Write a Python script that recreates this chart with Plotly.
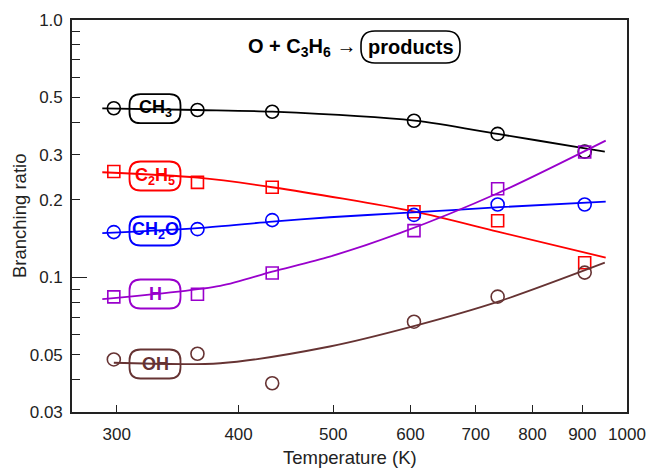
import math
import plotly.graph_objects as go

# ---------------- data ----------------
T_pts = [298, 363, 433, 605, 737, 905]
CH3 = [0.454, 0.447, 0.440, 0.406, 0.361, 0.308]
C2H5 = [0.258, 0.234, 0.224, 0.180, 0.166, 0.114]
CH2O = [0.150, 0.154, 0.167, 0.175, 0.192, 0.192]
H = [0.084, 0.086, 0.104, 0.152, 0.221, 0.307]
OH = [0.048, 0.0505, 0.0388, 0.0673, 0.0842, 0.1044]

# fitted curves
T_fit_CH3 = [290, 363, 433, 606, 737, 906, 949]
CH3_fit = [0.454, 0.447, 0.4405, 0.4064, 0.3608, 0.3172, 0.308]
T_fit_C2H5 = [290, 363, 433, 606, 737, 951]
C2H5_fit = [0.2562, 0.2441, 0.2240, 0.1801, 0.1506, 0.1194]
T_fit_CH2O = [290, 363, 433, 496, 585, 741, 951]
CH2O_fit = [0.1485, 0.1553, 0.1647, 0.1713, 0.1776, 0.1874, 0.1970]
T_fit_H = [290, 383, 433, 496, 585, 737, 951]
H_fit = [0.0823, 0.0927, 0.1053, 0.1204, 0.1485, 0.2123, 0.340]
T_fit_OH = [298, 383, 496, 606, 738, 949]
OH_fit = [0.0466, 0.0464, 0.0539, 0.0648, 0.0805, 0.1141]

x_tickvals = [300, 400, 500, 600, 700, 800, 900, 1000]
y_tickvals = [0.03, 0.05, 0.1, 0.2, 0.3, 0.5, 1.0]
y_ticktext = ["0.03", "0.05", "0.1", "0.2", "0.3", "0.5", "1.0"]
y_minor = [0.04, 0.06, 0.07, 0.08, 0.09, 0.4, 0.6, 0.7, 0.8, 0.9]

series = [
    ("CH<sub>3</sub>", CH3, CH3_fit, T_fit_CH3, "circle-open", "#000000"),
    ("C<sub>2</sub>H<sub>5</sub>", C2H5, C2H5_fit, T_fit_C2H5, "square-open", "#ff0000"),
    ("CH<sub>2</sub>O", CH2O, CH2O_fit, T_fit_CH2O, "circle-open", "#0000ff"),
    ("H", H, H_fit, T_fit_H, "square-open", "#9900cc"),
    ("OH", OH, OH_fit, T_fit_OH, "circle-open", "#663333"),
]
label_y_px = [108.7, 176, 231, 294, 364]

# ---------------- layout constants ----------------
W, Hh = 649, 472
ML, MR, MT, MB = 72, 22, 20, 60
PW = W - ML - MR
PH = Hh - MT - MB
FONT = "Liberation Sans, Arial, sans-serif"


def px2paper(px, py):
    return (px - ML) / PW, 1 - (py - MT) / PH


def rounded_path(w, h, r):
    a, b = w / 2, h / 2
    return (f"M {-a + r},{-b} L {a - r},{-b} Q {a},{-b} {a},{-b + r} "
            f"L {a},{b - r} Q {a},{b} {a - r},{b} L {-a + r},{b} "
            f"Q {-a},{b} {-a},{b - r} L {-a},{-b + r} Q {-a},{-b} {-a + r},{-b} Z")


fig = go.Figure()
shapes = []
annotations = []

for (name, pts, fit, tf, sym, col), lpy in zip(series, label_y_px):
    fig.add_trace(go.Scatter(x=tf, y=fit, mode="lines",
                             line=dict(color=col, width=1.8, shape="spline", smoothing=0.8),
                             showlegend=False, hoverinfo="skip"))
    fig.add_trace(go.Scatter(x=T_pts, y=pts, mode="markers",
                             marker=dict(symbol=sym, size=13 if "circle" in sym else 12,
                                         color=col, line=dict(width=1.6, color=col)),
                             showlegend=False))
    xp, yp = px2paper(155, lpy)
    shapes.append(dict(type="path", xref="paper", yref="paper", xsizemode="pixel",
                       ysizemode="pixel", xanchor=xp, yanchor=yp,
                       path=rounded_path(51, 29, 11), line=dict(color=col, width=1.8)))
    annotations.append(dict(xref="paper", yref="paper", x=xp, y=yp, text=f"<b>{name}</b>",
                            showarrow=False, xanchor="center", yanchor="middle",
                            font=dict(family=FONT, size=18, color=col)))

# title
xp, yp = px2paper(358, 48)
annotations.append(dict(xref="paper", yref="paper", x=xp, y=yp,
                        text="<b>O + C<sub>3</sub>H<sub>6</sub></b> →",
                        showarrow=False, xanchor="right", yanchor="middle",
                        font=dict(family=FONT, size=20, color="#000")))
xp, yp = px2paper(410.5, 47)
annotations.append(dict(xref="paper", yref="paper", x=xp, y=yp, text="<b>products</b>",
                        showarrow=False, xanchor="center", yanchor="middle",
                        font=dict(family=FONT, size=20, color="#000")))
shapes.append(dict(type="path", xref="paper", yref="paper", xsizemode="pixel",
                   ysizemode="pixel", xanchor=xp, yanchor=yp,
                   path=rounded_path(99, 32, 14), line=dict(color="#000", width=1.6)))

# axis titles
xp, yp = px2paper(349.5, 457)
annotations.append(dict(xref="paper", yref="paper", x=xp, y=yp, text="Temperature (K)",
                        showarrow=False, xanchor="center", yanchor="middle",
                        font=dict(family=FONT, size=18.5, color="#222")))
xp, yp = px2paper(19, 216)
annotations.append(dict(xref="paper", yref="paper", x=xp, y=yp, text="Branching ratio",
                        showarrow=False, xanchor="center", yanchor="middle", textangle=-90,
                        font=dict(family=FONT, size=18.5, color="#222")))

fig.update_layout(
    width=W, height=Hh,
    margin=dict(l=ML, r=MR, t=MT, b=MB, pad=0, autoexpand=False),
    paper_bgcolor="white", plot_bgcolor="white",
    font=dict(family=FONT, size=17, color="#222"),
    showlegend=False,
    shapes=shapes, annotations=annotations,
    xaxis=dict(type="log", range=[math.log10(270), 3], tickvals=x_tickvals,
               ticktext=[str(v) for v in x_tickvals], ticks="inside", ticklen=7,
               tickwidth=1.3, tickcolor="#222", showgrid=False, zeroline=False,
               showline=True, linecolor="#222", linewidth=1.6, mirror=True,
               ticklabelstandoff=6, automargin=False),
    yaxis=dict(type="log", range=[math.log10(0.03), 0], tickvals=y_tickvals,
               ticktext=y_ticktext, ticks="inside", ticklen=8, tickwidth=1.3,
               tickcolor="#222", showgrid=False, zeroline=False, showline=True,
               linecolor="#222", linewidth=1.6, mirror=True, ticklabelstandoff=4,
               automargin=False,
               minor=dict(tickvals=y_minor, ticks="inside", ticklen=8, tickwidth=1.3,
                          tickcolor="#222", showgrid=False)),
    yaxis2=dict(type="log", range=[math.log10(0.03), 0], overlaying="y", side="left",
                tickvals=[0.1], ticks="inside", ticklen=15, tickwidth=1.3,
                tickcolor="#222", showticklabels=False, showgrid=False,
                showline=False, zeroline=False, automargin=False),
)
fig.add_trace(go.Scatter(x=[None], y=[None], yaxis="y2", showlegend=False,
                         hoverinfo="skip"))

fig.write_html("out.html", config={"displayModeBar": False},
               post_script="document.body.style.margin='0px';"
                           "document.body.style.overflow='hidden';")
